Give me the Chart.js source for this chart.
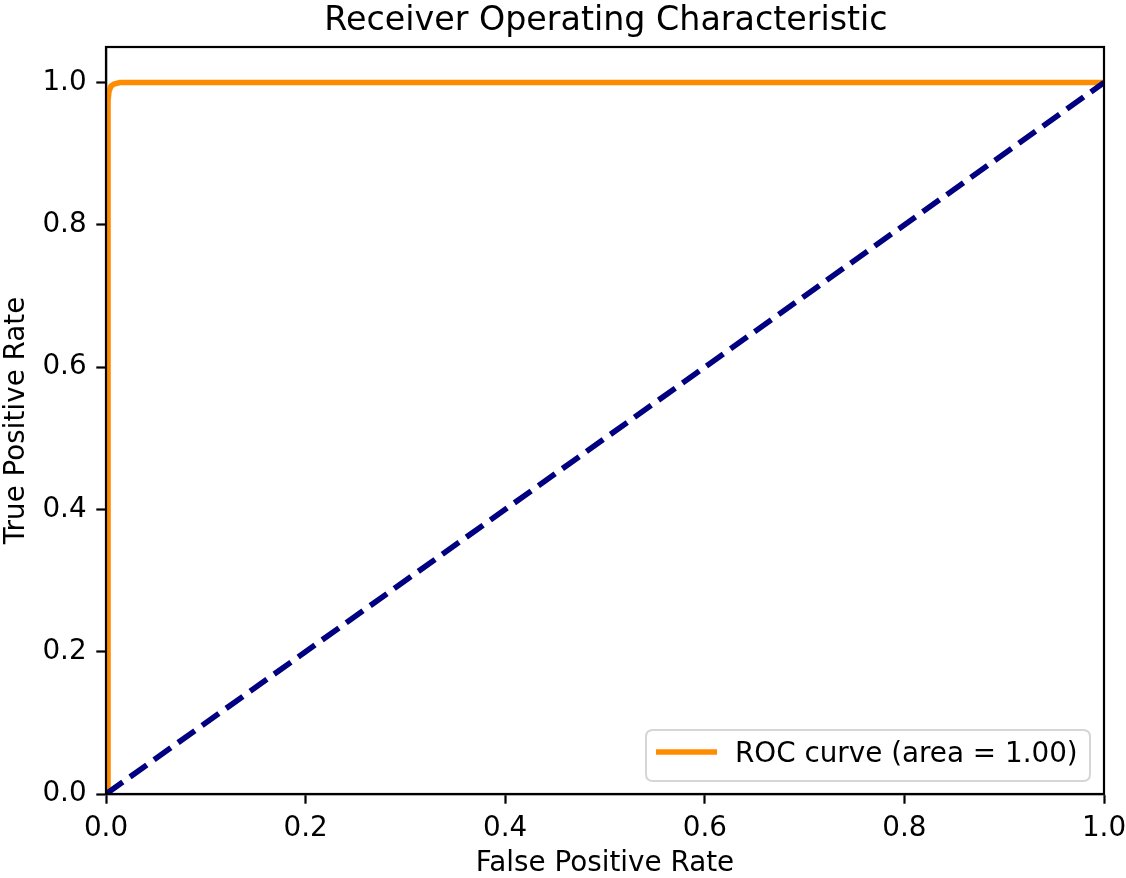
<!DOCTYPE html>
<html>
<head>
<meta charset="utf-8">
<script src="https://cdn.jsdelivr.net/npm/chart.js@4.4.0/dist/chart.umd.min.js"></script>
<style>
  html, body { margin: 0; padding: 0; background: #fff; }
  #wrap { width: 1126px; height: 878px; }
</style>
</head>
<body>
<div id="wrap"><canvas id="c" width="1126" height="878"></canvas></div>
<script>
// ---- data ----
const titleText = "Receiver Operating Characteristic";
const xAxisLabel = "False Positive Rate";
const yAxisLabel = "True Positive Rate";
const rocLabel = "ROC curve (area = 1.00)";
const rocFpr = [0, 0.002, 0.002, 0.003, 0.005, 0.008, 0.014, 1.0];
const rocTpr = [0, 0.01, 0.975, 0.988, 0.995, 0.998, 1.0, 1.0];
const diagFpr = [0, 1];
const diagTpr = [0, 1];
const xTicks = [0.0, 0.2, 0.4, 0.6, 0.8, 1.0];
const yTicks = [0.0, 0.2, 0.4, 0.6, 0.8, 1.0];

const FONT = "'DejaVu Sans', sans-serif";
const SMALL = 27.8;
const BIG = 33.3;

const frameAndTitle = {
  id: 'frameAndTitle',
  afterDatasetsDraw(chart) {
    const {ctx, chartArea: a} = chart;
    ctx.save();
    // spines
    ctx.strokeStyle = '#000';
    ctx.lineWidth = 2.2;
    ctx.strokeRect(a.left, a.top, a.right - a.left, a.bottom - a.top);
    // legend
    const bx = 646, by = 730, bw = 444, bh = 51, r = 7;
    ctx.fillStyle = 'rgba(255,255,255,0.8)';
    ctx.strokeStyle = '#d6d6d6';
    ctx.lineWidth = 2;
    ctx.beginPath();
    ctx.moveTo(bx + r, by);
    ctx.lineTo(bx + bw - r, by);
    ctx.quadraticCurveTo(bx + bw, by, bx + bw, by + r);
    ctx.lineTo(bx + bw, by + bh - r);
    ctx.quadraticCurveTo(bx + bw, by + bh, bx + bw - r, by + bh);
    ctx.lineTo(bx + r, by + bh);
    ctx.quadraticCurveTo(bx, by + bh, bx, by + bh - r);
    ctx.lineTo(bx, by + r);
    ctx.quadraticCurveTo(bx, by, bx + r, by);
    ctx.closePath();
    ctx.fill();
    ctx.stroke();
    const ds = chart.data.datasets[0];
    ctx.strokeStyle = ds.borderColor;
    ctx.lineWidth = ds.borderWidth;
    ctx.beginPath();
    ctx.moveTo(656, 752);
    ctx.lineTo(717, 752);
    ctx.stroke();
    ctx.fillStyle = '#000';
    ctx.font = SMALL + "px " + FONT;
    ctx.textBaseline = 'middle';
    ctx.textAlign = 'left';
    ctx.fillText(ds.label, 735, 755);
    // title
    ctx.font = BIG + "px " + FONT;
    ctx.textAlign = 'center';
    ctx.textBaseline = 'alphabetic';
    ctx.fillText(titleText, (a.left + a.right) / 2 + 1, 30);
    ctx.restore();
  }
};

new Chart(document.getElementById('c'), {
  type: 'scatter',
  data: {
    datasets: [
      {
        label: rocLabel,
        data: rocFpr.map((x, i) => ({x: x, y: rocTpr[i]})),
        showLine: true,
        borderColor: '#ff8c00',
        backgroundColor: '#ff8c00',
        borderWidth: 5.6,
        pointRadius: 0,
        tension: 0,
        order: 2
      },
      {
        label: '',
        data: diagFpr.map((x, i) => ({x: x, y: diagTpr[i]})),
        showLine: true,
        borderColor: '#000080',
        backgroundColor: '#000080',
        borderWidth: 5.6,
        borderDash: [20.6, 8.9],
        pointRadius: 0,
        order: 1
      }
    ]
  },
  options: {
    responsive: false,
    animation: false,
    devicePixelRatio: 1,
    layout: { padding: { left: 0, right: 22, top: 47, bottom: 0 } },
    plugins: {
      legend: { display: false },
      title: { display: false },
      tooltip: { enabled: false }
    },
    scales: {
      x: {
        type: 'linear',
        min: 0, max: 1,
        afterBuildTicks(s) { s.ticks = xTicks.map(v => ({value: v})); },
        afterFit(s) { s.height = 84; s.paddingLeft = 0; s.paddingRight = 0; },
        border: { display: true, color: '#000', width: 2.2 },
        grid: { drawOnChartArea: false, drawTicks: true, tickLength: 9.7, tickColor: '#000', tickWidth: 2.2 },
        ticks: { color: '#000', font: { family: FONT, size: SMALL }, padding: 8.8, maxRotation: 0,
                 callback: v => Number(v).toFixed(1) },
        title: { display: true, text: xAxisLabel, color: '#000', font: { family: FONT, size: SMALL, lineHeight: 1 },
                 padding: { top: 0, bottom: 0.6 } }
      },
      y: {
        type: 'linear',
        min: 0, max: 1.05,
        afterBuildTicks(s) { s.ticks = yTicks.map(v => ({value: v})); },
        afterFit(s) { s.width = 106; s.paddingTop = 0; s.paddingBottom = 0; },
        border: { display: true, color: '#000', width: 2.2 },
        grid: { drawOnChartArea: false, drawTicks: true, tickLength: 9.7, tickColor: '#000', tickWidth: 2.2 },
        ticks: { color: '#000', font: { family: FONT, size: SMALL }, padding: 9.7,
                 callback: v => Number(v).toFixed(1) },
        title: { display: true, text: yAxisLabel, color: '#000', font: { family: FONT, size: SMALL, lineHeight: 1 },
                 padding: { top: 3, bottom: 0 } }
      }
    }
  },
  plugins: [frameAndTitle]
});
</script>
</body>
</html>
